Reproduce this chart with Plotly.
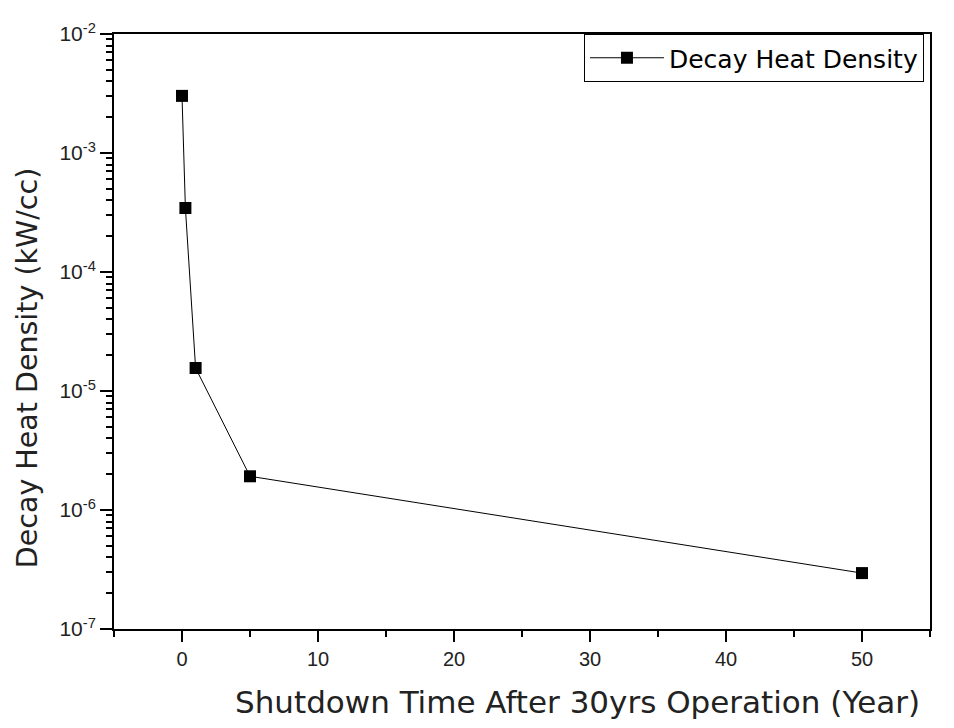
import plotly.graph_objects as go

shutdown_years = [0, 0.25, 1, 5, 50]
decay_heat = [3.02e-3, 3.45e-4, 1.56e-5, 1.92e-6, 2.95e-7]
series_name = "Decay Heat Density"
x_title = "Shutdown Time After 30yrs Operation (Year)"
y_title = "Decay Heat Density (kW/cc)"
y_tick_vals = [1e-7, 1e-6, 1e-5, 1e-4, 1e-3, 1e-2]
y_tick_text = ["10<sup>-7</sup>", "10<sup>-6</sup>", "10<sup>-5</sup>",
               "10<sup>-4</sup>", "10<sup>-3</sup>", "10<sup>-2</sup>"]
x_tick_vals = [0, 10, 20, 30, 40, 50]

tick_font = "Liberation Sans, Arial, sans-serif"
title_font = "DejaVu Sans, Verdana, sans-serif"

fig = go.Figure()
fig.add_trace(go.Scatter(
    x=shutdown_years, y=decay_heat, mode="lines+markers", name=series_name,
    line=dict(color="black", width=1),
    marker=dict(symbol="square", size=12, color="black"),
))

fig.update_layout(
    width=954, height=728,
    margin=dict(l=106, r=32, t=21, b=107),
    paper_bgcolor="white", plot_bgcolor="white",
    font=dict(family=tick_font, color="#222222"),
    showlegend=True,
    legend=dict(x=0.9926, y=1.0, xanchor="right", yanchor="top",
                bordercolor="black", borderwidth=1, bgcolor="white",
                font=dict(size=25, color="black", family=title_font),
                itemwidth=74, tracegroupgap=0),
    annotations=[
        dict(text=x_title, xref="paper", yref="paper", x=0.5686, y=-0.1233,
             xanchor="center", yanchor="middle", showarrow=False,
             font=dict(size=31, color="#222222", family=title_font)),
        dict(text=y_title, xref="paper", yref="paper", x=-0.1066, y=0.4383,
             xanchor="center", yanchor="middle", showarrow=False, textangle=-90,
             font=dict(size=28.5, color="#222222", family=title_font)),
    ],
)

fig.update_xaxes(
    range=[-5, 55], tickvals=x_tick_vals, showgrid=False, zeroline=False,
    showline=True, linecolor="black", linewidth=2, mirror=True,
    ticks="outside", ticklen=11, tickwidth=2, tickcolor="black",
    tickfont=dict(size=20, color="#222222"),
    minor=dict(dtick=5, tick0=-5, ticks="outside", ticklen=6, tickwidth=2, tickcolor="black"),
)
fig.update_yaxes(
    type="log", range=[-7, -2], tickvals=y_tick_vals, ticktext=y_tick_text,
    showgrid=False, zeroline=False,
    showline=True, linecolor="black", linewidth=2, mirror=True,
    ticks="outside", ticklen=12, tickwidth=2, tickcolor="black",
    tickfont=dict(size=21, color="#222222"),
    minor=dict(dtick="D1", ticks="outside", ticklen=6, tickwidth=1.5, tickcolor="black"),
)

fig.write_html("out.html")
